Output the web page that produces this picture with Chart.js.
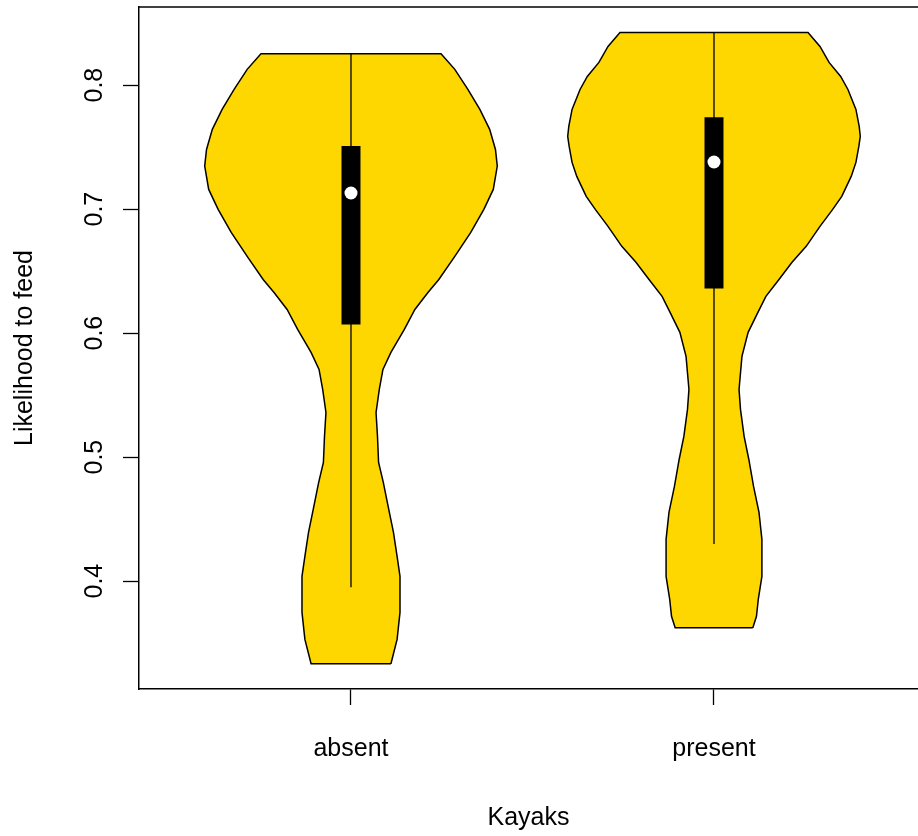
<!DOCTYPE html>
<html>
<head>
<meta charset="utf-8">
<title>Likelihood to feed by kayak presence</title>
<script src="https://cdn.jsdelivr.net/npm/chart.js@4/dist/chart.umd.min.js"></script>
<style>
  html, body { margin: 0; padding: 0; background: #fff; overflow: hidden; }
  #wrap { width: 918px; height: 836px; }
</style>
</head>
<body>
<div id="wrap"><canvas id="chart" width="918" height="836"></canvas></div>
<script>
// Groups along the x axis
const categories = ['absent', 'present'];
const yTicks = [0.4, 0.5, 0.6, 0.7, 0.8];

// Kernel density outline of each group: response levels (bottom to top)
// and the half width of the violin at each level (in x-axis units)
const absentLevels = [0.3334, 0.3530, 0.3748, 0.4038, 0.4199, 0.4393, 0.4578, 0.4796, 0.4957, 0.5167,
  0.5360, 0.5546, 0.5707, 0.5844, 0.6030, 0.6191, 0.6328, 0.6433, 0.6619, 0.6812,
  0.6998, 0.7159, 0.7347, 0.7481, 0.7643, 0.7804, 0.7965, 0.8127, 0.8253];
const absentHalfWidth = [0.110, 0.127, 0.135, 0.135, 0.127, 0.117, 0.104, 0.089, 0.076, 0.073,
  0.069, 0.078, 0.088, 0.110, 0.147, 0.176, 0.212, 0.242, 0.286, 0.330,
  0.366, 0.392, 0.403, 0.398, 0.382, 0.355, 0.322, 0.286, 0.248];

const presentLevels = [0.3624, 0.3716, 0.3853, 0.4038, 0.4337, 0.4554, 0.4764, 0.4981, 0.5167, 0.5385,
  0.5546, 0.5812, 0.6006, 0.6167, 0.6296, 0.6433, 0.6571, 0.6700, 0.6861, 0.6998,
  0.7103, 0.7264, 0.7377, 0.7506, 0.7586, 0.7667, 0.7804, 0.7965, 0.8070, 0.8183,
  0.8312, 0.8425];
const presentHalfWidth = [0.107, 0.117, 0.122, 0.132, 0.132, 0.124, 0.109, 0.096, 0.083, 0.073,
  0.069, 0.077, 0.094, 0.121, 0.143, 0.179, 0.215, 0.254, 0.292, 0.327,
  0.352, 0.378, 0.391, 0.399, 0.403, 0.400, 0.391, 0.369, 0.349, 0.317,
  0.292, 0.259];

// Box-plot summaries per group
const q1 = [0.607, 0.636];
const medians = [0.713, 0.738];
const q3 = [0.751, 0.774];
const whiskerLow = [0.395, 0.430];
const whiskerHigh = [0.8253, 0.8425];

const FILL = '#FFD700';
const INK = '#000000';

// Closed outline: up the right side, down the left side, back to start
function violinOutline(center, levels, halfWidth) {
  const right = levels.map((y, i) => ({ x: center + halfWidth[i], y }));
  const left = levels.map((y, i) => ({ x: center - halfWidth[i], y })).reverse();
  return right.concat(left, [right[0]]);
}

const groupShapes = [
  { levels: absentLevels, halfWidth: absentHalfWidth },
  { levels: presentLevels, halfWidth: presentHalfWidth }
];

const datasets = [];
categories.forEach((name, i) => {
  const c = i + 1;
  datasets.push({
    label: name + ' density',
    data: violinOutline(c, groupShapes[i].levels, groupShapes[i].halfWidth),
    showLine: true,
    fill: 'shape',
    backgroundColor: FILL,
    borderColor: INK,
    borderWidth: 1.5,
    pointRadius: 0,
    tension: 0,
    order: 3
  });
  datasets.push({
    label: name + ' whiskers',
    data: [{ x: c, y: whiskerLow[i] }, { x: c, y: whiskerHigh[i] }],
    showLine: true,
    borderColor: INK,
    borderWidth: 1.3,
    pointRadius: 0,
    order: 2
  });
  datasets.push({
    label: name + ' box',
    data: [{ x: c, y: q1[i] }, { x: c, y: q3[i] }],
    showLine: true,
    borderColor: INK,
    borderWidth: 19,
    borderCapStyle: 'butt',
    pointRadius: 0,
    order: 1
  });
});
datasets.push({
  label: 'median',
  data: medians.map((m, i) => ({ x: i + 1, y: m })),
  showLine: false,
  pointRadius: 6.5,
  pointBackgroundColor: '#FFFFFF',
  pointBorderWidth: 0,
  order: 0
});

// Top edge of the plot frame
const frameTop = {
  id: 'frameTop',
  afterDraw(chart) {
    const { ctx, chartArea } = chart;
    ctx.save();
    ctx.strokeStyle = INK;
    ctx.lineWidth = 1.5;
    ctx.beginPath();
    ctx.moveTo(chartArea.left, chartArea.top);
    ctx.lineTo(chartArea.right, chartArea.top);
    ctx.stroke();
    ctx.restore();
  }
};

// Fixed axis band sizes with no extra label overflow padding
function fixBand(scale, size) {
  if (scale.isHorizontal()) scale.height = size; else scale.width = size;
  scale.paddingTop = 0;
  scale.paddingBottom = 0;
  scale.paddingLeft = 0;
  scale.paddingRight = 0;
}

Chart.defaults.font.family = "'Liberation Sans', Arial, Helvetica, sans-serif";
Chart.defaults.color = INK;

new Chart(document.getElementById('chart'), {
  type: 'scatter',
  data: { datasets },
  plugins: [frameTop],
  options: {
    responsive: false,
    animation: false,
    devicePixelRatio: 1,
    layout: { autoPadding: false, padding: { top: 7, right: 0, bottom: 0, left: 0 } },
    plugins: { legend: { display: false }, tooltip: { enabled: false } },
    scales: {
      x: {
        type: 'linear',
        min: 0.416,
        max: 2.562,
        afterFit(scale) { fixBand(scale, 147); },
        afterBuildTicks(scale) { scale.ticks = categories.map((_, i) => ({ value: i + 1 })); },
        ticks: {
          callback: (v) => categories[Math.round(v) - 1],
          font: { size: 25 },
          padding: 29,
          maxRotation: 0,
          minRotation: 0
        },
        grid: { drawOnChartArea: false, tickLength: 16, tickWidth: 1.3, tickColor: INK },
        border: { display: true, color: INK, width: 1.5 },
        title: { display: true, text: 'Kayaks', font: { size: 25 }, padding: { top: 0, bottom: 3 } }
      },
      y: {
        type: 'linear',
        min: 0.313,
        max: 0.863,
        afterFit(scale) { fixBand(scale, 139); },
        afterBuildTicks(scale) { scale.ticks = yTicks.map(v => ({ value: v })); },
        ticks: {
          callback: (v) => v.toFixed(1),
          font: { size: 25 },
          minRotation: 90,
          maxRotation: 90,
          crossAlign: 'center',
          padding: 11
        },
        grid: { drawOnChartArea: false, tickLength: 16, tickWidth: 1.3, tickColor: INK },
        border: { display: true, color: INK, width: 1.5 },
        title: { display: true, text: 'Likelihood to feed', font: { size: 25 }, padding: { top: 10, bottom: 0 } }
      }
    }
  }
});
</script>
</body>
</html>
